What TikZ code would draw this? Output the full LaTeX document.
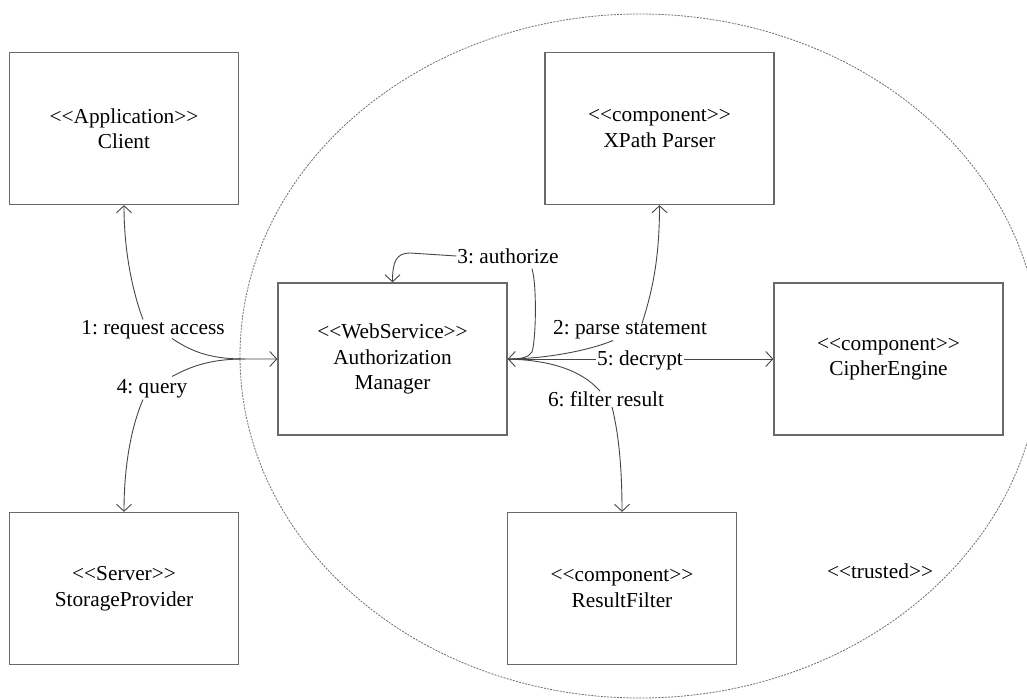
\documentclass[tikz,border=0pt]{standalone}
\usepackage{fontspec}
\setmainfont{Liberation Serif}
\usetikzlibrary{arrows.meta,calc}
% stereotype brackets, kept as two separate glyphs
\newcommand{\stereo}[1]{<{}<#1>{}>}
\begin{document}
\frenchspacing
\begin{tikzpicture}[x=1pt,y=-1pt,
  box/.style={draw={rgb,255:red,105;green,105;blue,105}, line width=1.3pt,
    minimum width=229pt, minimum height=152pt, align=center, inner sep=0pt,
    font=\fontsize{21.3}{25.5}\selectfont},
  msg/.style={inner sep=1pt, font=\fontsize{21.3}{25.5}\selectfont},
  link/.style={draw={rgb,255:red,70;green,70;blue,70}, line width=0.9pt},
  tip/.style={-{Straight Barb[length=7pt,width=15pt]}},
  boundary/.style={draw={rgb,255:red,110;green,110;blue,110}, line width=0.8pt,
    dash pattern=on 2pt off 1.2pt}]
\useasboundingbox (0,0) rectangle (1027,700);

% trusted zone
\begin{scope}
  \clip (0,0) rectangle (1027,700);
  \draw[boundary] (640,356) ellipse [x radius=400pt, y radius=342pt];
\end{scope}

% components
\node[box] (client)  at (124,128.5) {\stereo{Application}\\Client};
\node[box] (xpath)   at (659.5,128.5) {\stereo{component}\\XPath Parser};
\node[box] (auth)    at (392.5,359) {\stereo{WebService}\\Authorization\\Manager};
\node[box] (cipher)  at (888.5,359) {\stereo{component}\\CipherEngine};
\node[box] (storage) at (124,588.5) {\stereo{Server}\\StorageProvider};
\node[box] (filter)  at (622,588.5) {\stereo{component}\\ResultFilter};

% message labels
\node[msg] (lbl1) at (153,330) {1: request access};
\node[msg] (lbl4) at (152,389) {4: query};
\node[msg] (lbl3) at (508,256) {3: authorize};
\node[msg] (lbl2) at (630,330) {2: parse statement};
\node[msg] (lbl5) at (640,360) {5: decrypt};
\node[msg] (lbl6) at (606,399) {6: filter result};
\node[msg] (zone) at (880,571) {\stereo{trusted}};

% 1: request access
\draw[link,tip] ([xshift=-10pt]lbl1.north) .. controls (132,290) and (124,250) .. (client.south);
\draw[link,tip] ($(lbl1.south)+(19,-2)$) .. controls (195,354) and (215,359) .. (245,359) -- (auth.west);
% 4: query
\draw[link] ($(lbl4.north)+(20,-2)$) .. controls (195,364) and (215,359) .. (245,359);
\draw[link,tip] ([xshift=-9pt]lbl4.south) .. controls (130,430) and (124,470) .. (storage.north);

% 3: authorize (self call)
\draw[link,tip] (lbl3.west) -- (410,253) .. controls (396,253) and (392.5,262) .. (auth.north);
\draw[link,tip] ($(lbl3.south)+(24,4)$) .. controls (537,285) and (536,340) .. (532,352)
  .. controls (528,358) and (520,359) .. (auth.east);

% 2: parse statement
\draw[link,tip] ($(lbl2.north)+(12,4)$) .. controls (652,292) and (659.5,260) .. (xpath.south);
\draw[link] ($(lbl2.south)+(-17,0)$) .. controls (585,352) and (540,359) .. (auth.east);

% 5: decrypt
\draw[link] (auth.east) -- (auth.east -| lbl5.west);
\draw[link,tip] (lbl5.east |- cipher.west) -- (cipher.west);

% 6: filter result
\draw[link] (auth.east) .. controls (545,360) and (580,368) .. ($(lbl6.north)+(-6,1)$);
\draw[link,tip] ($(lbl6.south)+(6,-1)$) .. controls (619,435) and (622,470) .. (filter.north);
\end{tikzpicture}
\end{document}
